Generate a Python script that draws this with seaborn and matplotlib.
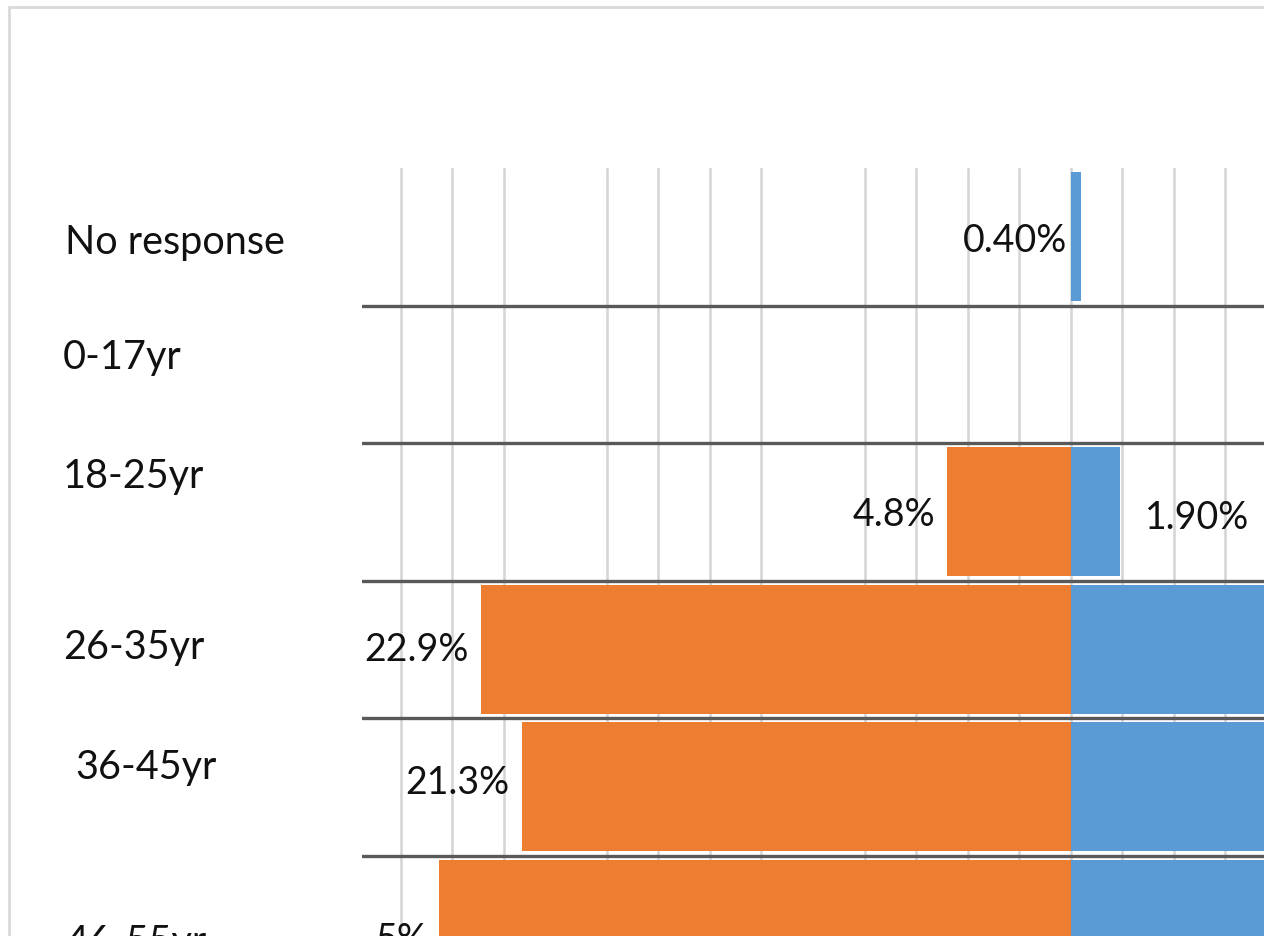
import matplotlib
matplotlib.use("Agg")
import matplotlib.pyplot as plt
import seaborn as sns
import pandas as pd
from matplotlib.patches import Rectangle
from matplotlib.transforms import blended_transform_factory

# ---- data ----
categories = ["No response", "0-17yr", "18-25yr", "26-35yr", "36-45yr", "46-55yr"]
female = [0.0, 0.0, 4.8, 22.9, 21.3, 24.5]          # orange, drawn to the left
male = [0.4, 0.0, 1.9, 23.5, 20.4, 17.0]            # blue, drawn to the right (last three run off the crop)
female_labels = ["", "", "4.8%", "22.9%", "21.3%", "5%"]
male_labels = ["0.40%", "", "1.90%", "", "", ""]
grid_values = [-26, -24, -22, -18, -16, -14, -12, -8, -6, -4, -2, 0, 2, 4, 6, 8, 12, 14, 16, 18, 22, 24, 26]

# ---- layout (pixels) ----
W, H, DPI = 1264, 936, 100
ORANGE, BLUE = "#ED7D31", "#5B9BD5"
cat_label_x = [65, 63, 63, 63, 75, 65]
cat_label_dy = [6, -17, -35, -2, -19, 18]
f_label_dy = [0, 0, 3, 1, -4, 16]
m_label_dy = [4, 0, 6, 0, 0, 0]

sns.set_style("white")
plt.rcParams["font.family"] = ["Lato", "DejaVu Sans"]

fig = plt.figure(figsize=(W / DPI, H / DPI), dpi=DPI)
fig.patch.set_facecolor("white")

px_per_unit = 25.77
row_px = 137.5
left_px, top_px = 362, 168
xmin, xmax = -27.5, 27.5
n = len(categories)
ax_w = (xmax - xmin) * px_per_unit
ax_h = n * row_px
ax = fig.add_axes([left_px / W, (H - top_px - ax_h) / H, ax_w / W, ax_h / H])

df = pd.DataFrame({"category": categories,
                   "female": [-v for v in female],
                   "male": male})

sns.barplot(data=df, x="female", y="category", color=ORANGE, saturation=1,
            width=0.94, linewidth=0, orient="h", ax=ax, zorder=2)
sns.barplot(data=df, x="male", y="category", color=BLUE, saturation=1,
            width=0.94, linewidth=0, orient="h", ax=ax, zorder=2)

ax.set_xlim(xmin, xmax)
ax.set_ylim(n - 0.5, -0.5)
ax.set_xticks(grid_values)
ax.grid(axis="x", color="#D4D4D4", linewidth=1.8, zorder=0)
ax.grid(axis="y", visible=False)
ax.set_axisbelow(True)
ax.tick_params(left=False, bottom=False, labelleft=False, labelbottom=False)
ax.set_xlabel("")
ax.set_ylabel("")
for s in ax.spines.values():
    s.set_visible(False)

# row separators
for i in range(n - 1):
    ax.axhline(i + 0.5, color="#595959", linewidth=2.4, zorder=3)

FS_VAL = 27
FS_CAT = 28.5
# value labels
for i, (v, lab) in enumerate(zip(female, female_labels)):
    if lab:
        ax.annotate(lab, xy=(-v, i), xytext=(-12 * 0.72, -f_label_dy[i] * 0.72),
                    textcoords="offset points", ha="right", va="center",
                    fontsize=FS_VAL, color="#111111", zorder=4)
for i, (v, lab) in enumerate(zip(male, male_labels)):
    if lab:
        if v < 1:
            ax.annotate(lab, xy=(0, i), xytext=(-4 * 0.72, -m_label_dy[i] * 0.72),
                        textcoords="offset points", ha="right", va="center",
                        fontsize=FS_VAL, color="#111111", zorder=4)
        else:
            ax.annotate(lab, xy=(v, i), xytext=(25 * 0.72, -m_label_dy[i] * 0.72),
                        textcoords="offset points", ha="left", va="center",
                        fontsize=FS_VAL, color="#111111", zorder=4)

# category labels on the left
tr = blended_transform_factory(fig.transFigure, ax.transData)
for i, cat in enumerate(categories):
    ax.text(cat_label_x[i] / W, i + cat_label_dy[i] / row_px, cat, transform=tr,
            ha="left", va="center", fontsize=FS_CAT, color="#111111", clip_on=False)

# chart frame (top and left edges visible)
fig.add_artist(Rectangle((9 / W, -0.2), 2.0, 1 - 7 / H + 0.2, transform=fig.transFigure,
                         fill=False, edgecolor="#D9D9D9", linewidth=2))

fig.savefig("out.png", dpi=DPI, facecolor="white")
